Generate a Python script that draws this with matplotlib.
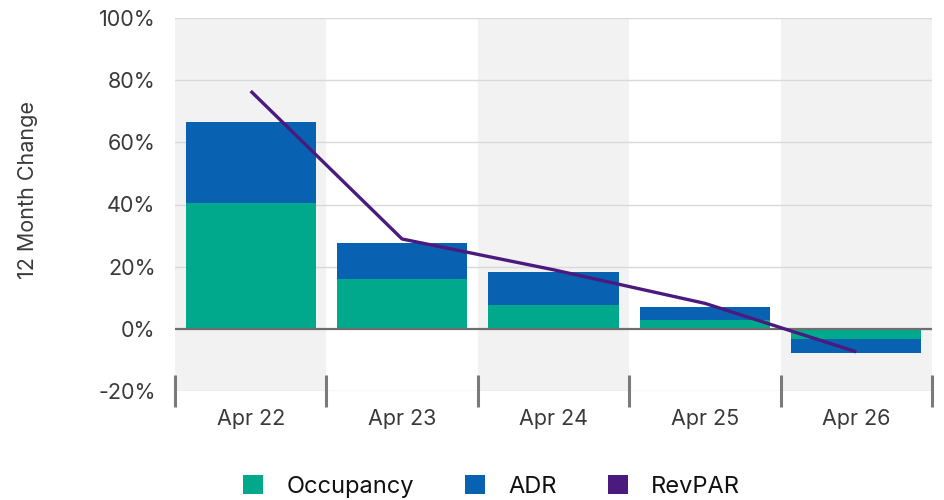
import matplotlib.pyplot as plt
import numpy as np
from matplotlib.patches import Patch

plt.rcParams['font.family'] = ['Inter', 'DejaVu Sans']

# data (percent change vs. 12 months earlier)
periods = ["Apr 22", "Apr 23", "Apr 24", "Apr 25", "Apr 26"]
occupancy = [40.5, 16.1, 7.7, 2.9, -3.2]
adr = [26.1, 11.6, 10.6, 4.2, -4.5]
revpar = [76.5, 28.9, 19.0, 8.2, -7.4]
yticks = [-20, 0, 20, 40, 60, 80, 100]

OCC_C = "#00a98b"
ADR_C = "#0961b1"
REV_C = "#4a1a7f"
TEXT_C = "#3a3a3a"

fig = plt.figure(figsize=(9.45, 5), dpi=100)
ax = fig.add_axes([175 / 945, 1 - 391 / 500, (932 - 175) / 945, (391 - 18) / 500])

x = np.arange(len(periods))

# alternating shaded columns
for i in x:
    if i % 2 == 0:
        ax.axvspan(i - 0.5, i + 0.5, color="#f2f2f2", zorder=0, lw=0)

# gridlines
for v in yticks:
    if v == 0:
        continue
    ax.axhline(v, color="#d9d9d9", lw=1, zorder=1)

# stacked bars: positive parts stack upward, negative parts downward
occ = np.array(occupancy)
ad = np.array(adr)
ax.bar(x, occ, width=0.86, color=OCC_C, zorder=2)
adr_bottom = np.where(np.sign(ad) == np.sign(occ), occ, 0)
ax.bar(x, ad, bottom=adr_bottom, width=0.86, color=ADR_C, zorder=2)

ax.axhline(0, color="#6e6e6e", lw=1.6, zorder=3)

ax.plot(x, revpar, color=REV_C, lw=2.4, zorder=4, solid_capstyle="butt")

ax.set_xlim(-0.5, len(periods) - 0.5)
ax.set_ylim(-20, 100)
ax.set_yticks(yticks)
ax.set_yticklabels([f"{v}%" for v in yticks])
ax.set_xticks(x)
ax.set_xticklabels(periods)
ax.set_xticks(np.arange(-0.5, len(periods)), minor=True)

for s in ax.spines.values():
    s.set_visible(False)

ax.tick_params(axis="y", length=0, pad=14, labelsize=15.5, labelcolor=TEXT_C)
ax.tick_params(axis="x", which="major", length=0, pad=13, labelsize=15.5, labelcolor=TEXT_C)
ax.tick_params(axis="x", which="minor", direction="inout", length=23, width=2.2, color="#7a7a7a")

fig.text(28 / 945, 1 - 190 / 500, "12 Month Change", rotation=90, ha="center", va="center",
         fontsize=15.5, color=TEXT_C)

handles = [
    Patch(facecolor=OCC_C, edgecolor="none", label="Occupancy"),
    Patch(facecolor=ADR_C, edgecolor="none", label="ADR"),
    Patch(facecolor=REV_C, edgecolor="none", label="RevPAR"),
]
fig.legend(handles=handles, loc="center", bbox_to_anchor=(0.52, 0.027), ncol=3, frameon=False,
           fontsize=17, handlelength=0.85, handleheight=0.85, handletextpad=1.0, columnspacing=2.15,
           labelcolor="#111111")

fig.savefig("out.png", dpi=100)
